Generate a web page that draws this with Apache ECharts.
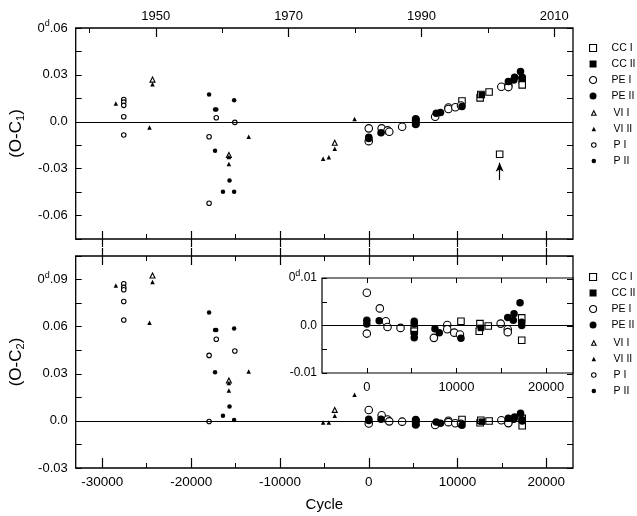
<!DOCTYPE html>
<html>
<head>
<meta charset="utf-8">
<script src="https://cdn.jsdelivr.net/npm/echarts@6/dist/echarts.min.js"></script>
<style>html,body{margin:0;padding:0;background:#fff}#c{width:637px;height:516px}</style>
</head>
<body>
<div id="c"></div>
<script>
// ---- data: cycle, O-C1 (top panel), O-C2 (bottom panel & inset) ----
const ccI_cycle = [5290, 5290, 10500, 12540, 12620, 13550, 14740, 17280, 17280];
const ccI_oc1   = [0.0003, -0.0004, 0.0133, 0.0153, 0.0175, 0.0191, -0.0208, 0.0266, 0.0236];
const ccI_oc2   = [-0.0007, -0.0012, 0.0009, -0.0012, 0.0004, -0.0001, null, 0.0016, -0.0031];

const ccII_cycle = [5290, 12730];
const ccII_oc1   = [-0.0008, 0.0172];
const ccII_oc2   = [-0.0018, -0.0005];

const peI_cycle = [0, 0, 1450, 2120, 2310, 3760, 7480, 8970, 8970, 9750, 10390, 14930, 15720, 15720];
const peI_oc1   = [-0.0042, -0.0124, -0.0042, -0.0055, -0.0064, -0.0032, 0.0032, 0.0091, 0.0082, 0.0093, 0.0104, 0.0224, 0.0233, 0.0222];
const peI_oc2   = [0.0069, -0.0017, 0.0036, 0.0009, -0.0003, -0.0005, -0.0026, 0.0001, -0.0008, -0.0015, -0.0019, 0.0004, -0.0008, -0.0014];

const peII_cycle = [0, 0, 1380, 5290, 5290, 5290, 7600, 8080, 10500, 15720, 16340, 16420, 17090, 17280, 17280];
const peII_oc1   = [-0.0099, -0.0107, -0.0070, 0.0020, 0.0012, -0.0018, 0.0054, 0.0060, 0.0097, 0.0258, 0.0268, 0.0285, 0.0321, 0.0285, 0.0278];
const peII_oc2   = [0.0011, 0.0003, 0.0010, 0.0009, 0.0003, -0.0026, -0.0007, -0.0015, -0.0027, 0.0017, 0.0011, 0.0025, 0.0048, 0.0007, 0.0000];

const viI_cycle = [-24350, -15750, -3830];
const viI_oc1   = [0.0270, -0.0212, -0.0134];
const viI_oc2   = [0.0926, 0.0257, 0.0070];

const viII_cycle = [-28480, -24350, -24690, -15750, -15750, -13520, -5140, -4500, -3830, -1600];
const viII_oc1   = [0.0117, 0.0240, -0.0036, -0.0225, -0.0270, -0.0096, -0.0236, -0.0227, -0.0172, 0.0018];
const viII_oc2   = [0.0862, 0.0884, 0.0625, 0.0242, 0.0193, 0.0315, -0.0011, -0.0011, 0.0032, 0.0167];

const pI_cycle = [-27590, -27590, -27590, -27590, -27590, -17170, -15080, -17980, -17980];
const pI_oc1   = [0.0143, 0.0126, 0.0105, 0.0032, -0.0085, 0.0026, -0.0004, -0.0096, -0.0521];
const pI_oc2   = [0.0873, 0.0850, 0.0835, 0.0760, 0.0642, 0.0520, 0.0445, 0.0417, -0.0004];

const pII_cycle = [-17980, -17310, -17170, -15160, -17310, -15680, -16420, -15160];
const pII_oc1   = [0.0175, 0.0079, 0.0079, 0.0138, -0.0185, -0.0376, -0.0447, -0.0447];
const pII_oc2   = [0.0691, 0.0578, 0.0578, 0.0589, 0.0310, 0.0092, 0.0032, 0.0006];

// arrow annotation (top panel) pointing at the deviant CC I point
const arrowCycle = 14740;
const arrowFromTo = [-0.0372, -0.0262];

// axis ticks / labels
const cycleMajor = [-30000, -20000, -10000, 0, 10000, 20000];
const cycleMinor = [-25000, -15000, -5000, 5000, 15000];
const insetXLabels = [0, 10000, 20000];
const insetXTicks = [0, 5000, 10000, 15000, 20000];
const yearMajor = [1950, 1970, 1990, 2010];
const yearMinor = [1940, 1960, 1980, 2000];
const topYLabels = {'60':'0{sup|d}.06','30':'0.03','0':'0.0','-30':'-0.03','-60':'-0.06'};
const botYLabels = {'90':'0{sup|d}.09','60':'0.06','30':'0.03','0':'0.0','-30':'-0.03'};
const insYLabels = {'10':'0{sup|d}.01','0':'0.0','-10':'-0.01'};

const FONT = 'Liberation Sans, Arial, Helvetica, sans-serif';
const CMIN = -33000, CMAX = 23000;

const defs = [
  {name:'CC I',  symbol:'rect',     size:6.5, open:true,  big:true,  c:ccI_cycle,  a:ccI_oc1,  b:ccI_oc2},
  {name:'CC II', symbol:'rect',     size:6.5, open:false, big:true,  c:ccII_cycle, a:ccII_oc1, b:ccII_oc2},
  {name:'PE I',  symbol:'circle',   size:7.5, open:true,  big:true,  c:peI_cycle,  a:peI_oc1,  b:peI_oc2},
  {name:'PE II', symbol:'circle',   size:7.5, open:false, big:true,  c:peII_cycle, a:peII_oc1, b:peII_oc2},
  {name:'VI I',  symbol:'triangle', size:5,   open:true,  big:false, c:viI_cycle,  a:viI_oc1,  b:viI_oc2},
  {name:'VI II', symbol:'triangle', size:4.5, open:false, big:false, c:viII_cycle, a:viII_oc1, b:viII_oc2},
  {name:'P I',   symbol:'circle',   size:4.5, open:true,  big:false, c:pI_cycle,   a:pI_oc1,   b:pI_oc2},
  {name:'P II',  symbol:'circle',   size:4.5, open:false, big:false, c:pII_cycle,  a:pII_oc1,  b:pII_oc2}
];

function styleOf(d){
  return d.open ? {color:'#fff', borderColor:'#000', borderWidth:1.1, opacity:1}
                : {color:'#000', borderColor:'#000', borderWidth:0, opacity:1};
}

const NOLINE = {show:false, onZero:false};

function cycAxis(grid, pos, o){
  return Object.assign({
    type:'value', gridIndex:grid, position:pos, min:CMIN, max:CMAX,
    axisLine:NOLINE, splitLine:{show:false},
    axisTick:{show:true, inside:true, length:8, customValues:cycleMajor, lineStyle:{color:'#000', width:1.2}},
    axisLabel:{show:false}
  }, o);
}

const xAxis = [
  cycAxis(0,'bottom',{}),
  cycAxis(0,'bottom',{axisTick:{show:true, inside:false, length:8, customValues:cycleMajor, lineStyle:{color:'#000', width:1.2}}}),
  cycAxis(0,'bottom',{axisTick:{show:true, inside:true, length:5, customValues:cycleMinor, lineStyle:{color:'#000', width:1}}}),
  {type:'value', gridIndex:0, position:'top', min:1937.94, max:2012.83,
   axisLine:NOLINE, splitLine:{show:false},
   axisTick:{show:true, inside:true, length:9, customValues:yearMajor, lineStyle:{color:'#000', width:1.2}},
   axisLabel:{show:true, customValues:yearMajor, margin:5, fontSize:13, color:'#000', fontFamily:FONT,
              formatter:v => String(Math.round(v))}},
  {type:'value', gridIndex:0, position:'top', min:1937.94, max:2012.83,
   axisLine:NOLINE, splitLine:{show:false},
   axisTick:{show:true, inside:true, length:5, customValues:yearMinor, lineStyle:{color:'#000', width:1}},
   axisLabel:{show:false}},
  cycAxis(1,'bottom',{
    axisLabel:{show:true, customValues:cycleMajor, margin:7, fontSize:13.5, color:'#000', fontFamily:FONT,
               formatter:v => String(Math.round(v))},
    axisTick:{show:true, inside:true, length:10, customValues:cycleMajor, lineStyle:{color:'#000', width:1.2}},
    name:'Cycle', nameLocation:'middle', nameGap:29,
    nameTextStyle:{fontSize:15, color:'#000', fontFamily:FONT}
  }),
  cycAxis(1,'bottom',{axisTick:{show:true, inside:true, length:5, customValues:cycleMinor, lineStyle:{color:'#000', width:1}}}),
  cycAxis(1,'top',{axisTick:{show:true, inside:true, length:9, customValues:cycleMajor, lineStyle:{color:'#000', width:1.2}}}),
  cycAxis(1,'top',{axisTick:{show:true, inside:false, length:8, customValues:cycleMajor, lineStyle:{color:'#000', width:1.2}}}),
  cycAxis(1,'top',{axisTick:{show:true, inside:true, length:5, customValues:cycleMinor, lineStyle:{color:'#000', width:1}}}),
  {type:'value', gridIndex:2, position:'bottom', min:-5000, max:CMAX,
   axisLine:NOLINE, splitLine:{show:false},
   axisTick:{show:true, inside:true, length:5, customValues:insetXTicks, lineStyle:{color:'#000', width:1}},
   axisLabel:{show:true, customValues:insetXLabels, margin:8, fontSize:13, color:'#000', fontFamily:FONT,
              formatter:v => String(Math.round(v))}},
  {type:'value', gridIndex:2, position:'top', min:-5000, max:CMAX,
   axisLine:NOLINE, splitLine:{show:false},
   axisTick:{show:true, inside:true, length:5, customValues:insetXTicks, lineStyle:{color:'#000', width:1}},
   axisLabel:{show:false}}
];

function lab(map){
  return function(v){ const k = String(Math.round(v*1000)); return map[k] !== undefined ? map[k] : ''; };
}
const supRich = {sup:{fontSize:9, padding:[0,0,8,0], color:'#000', fontFamily:FONT}};
const subRich = {sub:{fontSize:11, padding:[9,0,0,0], color:'#000', fontFamily:FONT}};

function yAx(grid, pos, min, max, step, map, name){
  const o = {type:'value', gridIndex:grid, position:pos, min:min, max:max, interval:step,
    axisLine:NOLINE, splitLine:{show:false},
    axisTick:{show:true, inside:true, length:6, lineStyle:{color:'#000', width:1}},
    axisLabel:{show:!!map, margin:8, fontSize:13, color:'#000', fontFamily:FONT,
               formatter: map ? lab(map) : undefined, rich:supRich}};
  if (name){
    o.name = name; o.nameLocation='middle'; o.nameRotate=90; o.nameGap=43;
    o.nameTextStyle = {fontSize:17, color:'#000', fontFamily:FONT, rich:subRich};
  }
  return o;
}

const yAxis = [
  yAx(0,'left',-0.075,0.06,0.015,topYLabels,'(O-C{sub|1})'),
  yAx(0,'right',-0.075,0.06,0.015,null),
  yAx(1,'left',-0.03,0.105,0.015,botYLabels,'(O-C{sub|2})'),
  yAx(1,'right',-0.03,0.105,0.015,null),
  yAx(2,'left',-0.01,0.01,0.005,insYLabels)
];
yAxis[4].axisLabel.fontSize = 12;
yAxis[4].axisLabel.margin = 5;
yAxis[4].axisTick.length = 5;

const series = [];
const zeroLine = (xi, yi) => ({type:'line', xAxisIndex:xi, yAxisIndex:yi, data:[], z:1, silent:true,
  markLine:{silent:true, symbol:['none','none'], label:{show:false},
    lineStyle:{color:'#000', width:1.2, type:'solid'}, data:[{yAxis:0}], animation:false}});
series.push(zeroLine(0,0));
series.push(zeroLine(5,2));
series.push(zeroLine(10,4));
series.push({type:'line', xAxisIndex:0, yAxisIndex:0, data:[], z:1, silent:true,
  markLine:{silent:true, symbol:['none','arrow'], symbolSize:[6,9], label:{show:false},
    lineStyle:{color:'#000', width:1.2, type:'solid'},
    data:[[{coord:[arrowCycle, arrowFromTo[0]]},{coord:[arrowCycle, arrowFromTo[1]]}]], animation:false}});

defs.forEach(d => {
  const base = {type:'scatter', name:d.name, symbol:d.symbol, symbolSize:d.size,
    itemStyle:styleOf(d), emphasis:{disabled:true}, clip:true, z:3};
  const top = d.c.map((c,i) => [c, d.a[i]]).filter(p => p[1] !== null);
  const bot = d.c.map((c,i) => [c, d.b[i]]).filter(p => p[1] !== null);
  series.push(Object.assign({}, base, {xAxisIndex:0, yAxisIndex:0, data:top}));
  series.push(Object.assign({}, base, {xAxisIndex:5, yAxisIndex:2, data:bot}));
  if (d.big) series.push(Object.assign({}, base, {xAxisIndex:10, yAxisIndex:4, data:bot}));
});

function legendOf(names, top, ih){
  return {orient:'vertical', left:584, top:top, itemWidth:ih, itemHeight:ih, itemGap:2,
    selectedMode:false,
    formatter: n => '{g|}' + n,
    textStyle:{fontSize:10.5, lineHeight:14, color:'#000', fontFamily:FONT,
               rich:{g:{width:17 - ih}}},
    data: names.map(n => { const d = defs.find(x => x.name===n);
      return {name:n, icon:d.symbol, itemStyle:styleOf(d)}; })};
}
const bigNames = ['CC I','CC II','PE I','PE II'];
const smallNames = ['VI I','VI II','P I','P II'];

const option = {
  animation:false,
  backgroundColor:'#fff',
  grid:[
    {left:70, top:28, width:503, height:211, show:true, borderColor:'#000', borderWidth:1.3, backgroundColor:'transparent'},
    {left:70, top:256, width:503, height:212, show:true, borderColor:'#000', borderWidth:1.3, backgroundColor:'transparent'},
    {left:322, top:278, width:251, height:95, show:true, borderColor:'#000', borderWidth:1.2, backgroundColor:'#fff'}
  ],
  legend:[
    legendOf(bigNames, 36, 7),
    {...legendOf(smallNames, 101, 4.5), left:586},
    legendOf(bigNames, 265, 7),
    {...legendOf(smallNames, 331, 4.5), left:586}
  ],
  xAxis:xAxis,
  yAxis:yAxis,
  series:series
};
const chart = echarts.init(document.getElementById('c'), null, {renderer:'canvas'});
chart.setOption(option);
</script>
</body>
</html>
